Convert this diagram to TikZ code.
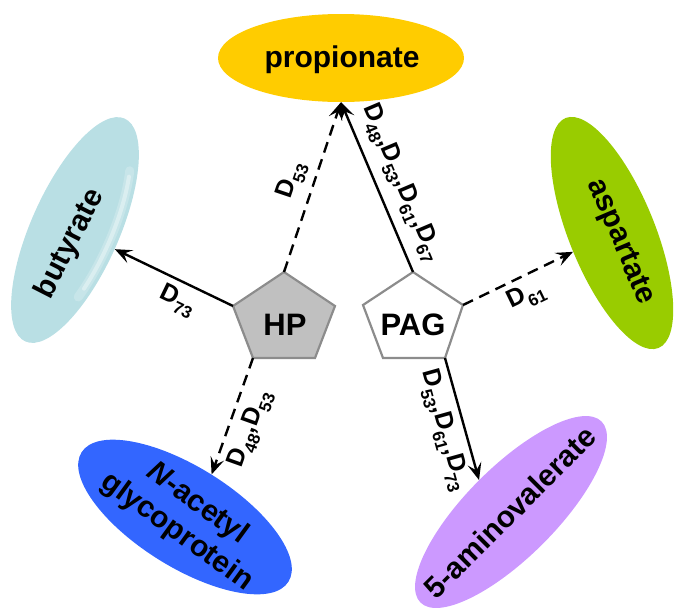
\documentclass[tikz,border=0pt]{standalone}
\usepackage{fontspec}
\setmainfont{Liberation Sans}
\usetikzlibrary{shapes.geometric,arrows.meta}
\definecolor{propc}{HTML}{FFCC00}
\definecolor{butc}{HTML}{B9DFE4}
\definecolor{aspc}{HTML}{99CC00}
\definecolor{nagc}{HTML}{3366FF}
\definecolor{aminoc}{HTML}{CC99FF}
\definecolor{hpc}{HTML}{C0C0C0}
\definecolor{pentc}{HTML}{8C8C8C}
\newcommand{\Dsub}[1]{D\raisebox{-0.3em}{\fontsize{17}{17}\selectfont #1}}
\begin{document}
\begin{tikzpicture}[x=1pt,y=-1pt,
  blob/.style={ellipse, inner sep=0pt, draw=none},
  blobtext/.style={font=\fontsize{30}{35}\selectfont\bfseries, inner sep=0pt, align=center},
  penttext/.style={font=\fontsize{31}{31}\selectfont\bfseries, inner sep=0pt},
  pent/.style={draw=pentc, line width=2.2pt, line join=miter},
  link/.style={line width=2.4pt, -{Stealth[length=17pt,width=14pt,inset=7pt]}},
  dlink/.style={link, dash pattern=on 11pt off 7pt},
  lab/.style={font=\fontsize{25}{25}\selectfont\bfseries, sloped, inner sep=2pt}
]
\useasboundingbox (0,0) rectangle (685,614);

% ellipses
\node[blob, fill=propc, minimum width=246pt, minimum height=88pt] (prop) at (341,58) {};
\node[blobtext] (propT) at (342,60) {propionate};

\node[blob, fill=butc, minimum width=244pt, minimum height=88pt, rotate=66] (but) at (75,230) {};
\begin{scope}[shift={(but.center)}, rotate=66, x=1pt, y=1pt]
  \draw[white, line width=9pt, opacity=.2, line cap=round] (237:110 and 36) arc[start angle=237, end angle=314, x radius=110, y radius=36];
  \draw[white, line width=4pt, opacity=.35, line cap=round] (243:110 and 36) arc[start angle=243, end angle=310, x radius=110, y radius=36];
\end{scope}
\node[blobtext, rotate=63] (butT) at (70,244) {butyrate};

\node[blob, fill=aspc, minimum width=248pt, minimum height=86pt, rotate=-68] (asp) at (612,233) {};
\node[blobtext, rotate=-67] (aspT) at (620,242) {aspartate};

\node[blob, fill=nagc, minimum width=244pt, minimum height=100pt, rotate=-32] (nag) at (185,517) {};
\node[blobtext, rotate=-36] (nagT) at (187,518) {\textit{N}-acetyl\\glycoprotein};

\node[blob, fill=aminoc, minimum width=256pt, minimum height=90pt, rotate=45] (amino) at (511,512) {};
\node[blobtext, rotate=45] (aminoT) at (510,512) {5-aminovalerate};

% pentagons
\coordinate (hpT) at (284,272);
\coordinate (hpL) at (233,306);
\coordinate (hpBL) at (253,358);
\coordinate (hpBR) at (315,358);
\coordinate (hpR) at (335,306);
\filldraw[pent, fill=hpc] (hpT) -- (hpR) -- (hpBR) -- (hpBL) -- (hpL) -- cycle;
\node[penttext] (hp) at (285,325) {HP};

\coordinate (pagT) at (413,272);
\coordinate (pagL) at (363,305);
\coordinate (pagBL) at (383,358);
\coordinate (pagBR) at (445,358);
\coordinate (pagR) at (463,305);
\filldraw[pent, fill=white] (pagT) -- (pagR) -- (pagBR) -- (pagBL) -- (pagL) -- cycle;
\node[penttext] (pag) at (413,325) {PAG};

% connectors
\draw[dlink] (hpT) -- node[lab, above=6pt, pos=0.5] {\Dsub{53}} (prop.south);
\draw[link] (pagT) -- node[lab, above=8pt, pos=0.47] {\Dsub{48},\Dsub{53},\Dsub{61},\Dsub{67}} (prop.south);
\draw[link] (hpL) -- node[lab, below=4pt, pos=0.4] {\Dsub{73}} (but);
\draw[dlink] (pagR) -- node[lab, below=4pt, pos=0.5] {\Dsub{61}} (asp);
\draw[dlink] (hpBL) -- node[lab, below=6pt, pos=0.55] {\Dsub{48},\Dsub{53}} (nag.north);
\draw[link] (pagBR) -- node[lab, below=5pt, pos=0.55] {\Dsub{53},\Dsub{61},\Dsub{73}} (amino.north);
\end{tikzpicture}
\end{document}
